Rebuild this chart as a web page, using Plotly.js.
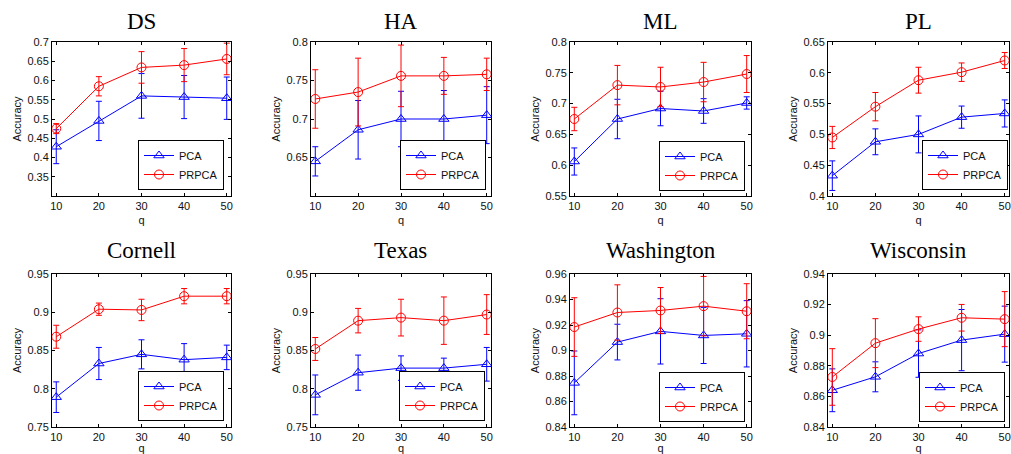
<!DOCTYPE html>
<html>
<head>
<meta charset="utf-8">
<script src="https://cdn.plot.ly/plotly-3.0.1.min.js"></script>
<style>
html,body{margin:0;padding:0;background:#fff;}
#chart{width:1011px;height:454px;}
</style>
</head>
<body>
<div id="chart"></div>
<script>
// ---------- data ----------
const q = [10, 20, 30, 40, 50];
const seriesNames = ['PCA', 'PRPCA'];
const panelTitles = ['DS', 'HA', 'ML', 'PL', 'Cornell', 'Texas', 'Washington', 'Wisconsin'];

const pcaDS = [0.428, 0.495, 0.560, 0.557, 0.554];
const pcaDSErr = [0.044, 0.051, 0.058, 0.056, 0.055];
const prpcaDS = [0.475, 0.585, 0.634, 0.640, 0.656];
const prpcaDSErr = [0.013, 0.025, 0.041, 0.043, 0.041];

const pcaHA = [0.645, 0.686, 0.700, 0.700, 0.705];
const pcaHAErr = [0.019, 0.038, 0.036, 0.037, 0.037];
const prpcaHA = [0.726, 0.735, 0.756, 0.756, 0.758];
const prpcaHAErr = [0.038, 0.044, 0.040, 0.024, 0.021];

const pcaML = [0.606, 0.675, 0.692, 0.688, 0.701];
const pcaMLErr = [0.022, 0.032, 0.028, 0.020, 0.010];
const prpcaML = [0.675, 0.730, 0.727, 0.735, 0.748];
const prpcaMLErr = [0.019, 0.032, 0.032, 0.032, 0.030];

const pcaPL = [0.433, 0.488, 0.500, 0.528, 0.534];
const pcaPLErr = [0.024, 0.021, 0.030, 0.018, 0.022];
const prpcaPL = [0.495, 0.545, 0.588, 0.601, 0.620];
const prpcaPLErr = [0.018, 0.023, 0.021, 0.015, 0.013];

const pcaCornell = [0.789, 0.833, 0.845, 0.838, 0.841];
const pcaCornellErr = [0.020, 0.021, 0.019, 0.021, 0.016];
const prpcaCornell = [0.868, 0.904, 0.903, 0.921, 0.921];
const prpcaCornellErr = [0.015, 0.008, 0.014, 0.010, 0.010];

const pcaTexas = [0.792, 0.821, 0.827, 0.827, 0.832];
const pcaTexasErr = [0.026, 0.023, 0.016, 0.013, 0.022];
const prpcaTexas = [0.852, 0.889, 0.893, 0.889, 0.897];
const prpcaTexasErr = [0.015, 0.016, 0.024, 0.031, 0.026];

const pcaWashington = [0.8746, 0.9066, 0.9150, 0.9118, 0.9131];
const pcaWashingtonErr = [0.025, 0.014, 0.0256, 0.022, 0.026];
const prpcaWashington = [0.9184, 0.9298, 0.9314, 0.9348, 0.9308];
const prpcaWashingtonErr = [0.023, 0.0217, 0.018, 0.0233, 0.0216];

const pcaWisconsin = [0.8640, 0.8728, 0.8880, 0.8968, 0.9007];
const pcaWisconsinErr = [0.014, 0.0098, 0.0155, 0.020, 0.0183];
const prpcaWisconsin = [0.8727, 0.8948, 0.9040, 0.9114, 0.9105];
const prpcaWisconsinErr = [0.0185, 0.016, 0.008, 0.0087, 0.018];

// y-axis ranges and tick labels
const yRanges = [[0.3, 0.7], [0.6, 0.8], [0.55, 0.8], [0.4, 0.65], [0.75, 0.95], [0.75, 0.95], [0.84, 0.96], [0.84, 0.94]];
const yTicks = [
  [0.35, 0.4, 0.45, 0.5, 0.55, 0.6, 0.65, 0.7],
  [0.65, 0.7, 0.75, 0.8],
  [0.55, 0.6, 0.65, 0.7, 0.75, 0.8],
  [0.4, 0.45, 0.5, 0.55, 0.6, 0.65],
  [0.75, 0.8, 0.85, 0.9, 0.95],
  [0.75, 0.8, 0.85, 0.9, 0.95],
  [0.84, 0.86, 0.88, 0.9, 0.92, 0.94, 0.96],
  [0.84, 0.86, 0.88, 0.9, 0.92, 0.94]
];
const xTicks = [10, 20, 30, 40, 50];
const xTitle = 'q';
const yTitle = 'Accuracy';

const pcaData = [pcaDS, pcaHA, pcaML, pcaPL, pcaCornell, pcaTexas, pcaWashington, pcaWisconsin];
const pcaErr = [pcaDSErr, pcaHAErr, pcaMLErr, pcaPLErr, pcaCornellErr, pcaTexasErr, pcaWashingtonErr, pcaWisconsinErr];
const prpcaData = [prpcaDS, prpcaHA, prpcaML, prpcaPL, prpcaCornell, prpcaTexas, prpcaWashington, prpcaWisconsin];
const prpcaErr = [prpcaDSErr, prpcaHAErr, prpcaMLErr, prpcaPLErr, prpcaCornellErr, prpcaTexasErr, prpcaWashingtonErr, prpcaWisconsinErr];

// ---------- layout geometry (pixels) ----------
const W = 1011, H = 454;
const colPx = [[52, 231], [311, 491], [570, 751], [828, 1009]];
const rowPx = [[42, 196], [274, 427]];
const titleYPx = [21, 251];
const legInsetR = [7, 5, 6, 1, 7, 6, 6, 4];
const legInsetB = [6, 6, 5, 6, 6, 6, 5, 5];

const sans = 'Liberation Sans, Arial, sans-serif';
const serif = 'Liberation Serif, Times New Roman, serif';
const BLUE = '#0000ff', RED = '#ff0000';

const traces = [];
const layout = {
  width: W, height: H,
  margin: {l: 0, r: 0, t: 0, b: 0},
  paper_bgcolor: '#ffffff',
  plot_bgcolor: '#ffffff',
  font: {family: sans, size: 11, color: '#111'},
  showlegend: true,
  annotations: []
};

for (let i = 0; i < 8; i++) {
  const c = i % 4, r = Math.floor(i / 4);
  const xa = i === 0 ? 'xaxis' : 'xaxis' + (i + 1);
  const ya = i === 0 ? 'yaxis' : 'yaxis' + (i + 1);
  const xr = i === 0 ? 'x' : 'x' + (i + 1);
  const yr = i === 0 ? 'y' : 'y' + (i + 1);
  const lg = i === 0 ? 'legend' : 'legend' + (i + 1);

  const xd = [colPx[c][0] / W, colPx[c][1] / W];
  const yd = [(H - rowPx[r][1]) / H, (H - rowPx[r][0]) / H];

  const axCommon = {
    showline: true, linecolor: '#000', linewidth: 1, mirror: 'ticks',
    ticks: 'inside', ticklen: 3, tickcolor: '#000', tickwidth: 1,
    showgrid: false, zeroline: false, fixedrange: true,
    tickfont: {family: sans, size: 11, color: '#111'}
  };

  layout[xa] = Object.assign({}, axCommon, {
    domain: xd, anchor: yr, range: [9, 51],
    tickmode: 'array', tickvals: xTicks, ticktext: xTicks.map(String),
    title: {text: xTitle, font: {family: sans, size: 11, color: '#111'}, standoff: 5}
  });
  layout[ya] = Object.assign({}, axCommon, {
    domain: yd, anchor: xr, range: yRanges[i],
    tickmode: 'array', tickvals: yTicks[i], ticktext: yTicks[i].map(String),
    title: {text: yTitle, font: {family: sans, size: 11, color: '#111'}, standoff: 3}
  });

  layout[lg] = {
    x: (colPx[c][1] - legInsetR[i]) / W, xanchor: 'right',
    y: (H - (rowPx[r][1] - legInsetB[i])) / H, yanchor: 'bottom',
    bgcolor: '#ffffff', bordercolor: '#000', borderwidth: 1,
    font: {family: sans, size: 11, color: '#111'},
    itemwidth: 30, tracegroupgap: 0
  };

  traces.push({
    type: 'scatter', mode: 'lines+markers', name: seriesNames[0],
    x: q, y: pcaData[i], xaxis: xr, yaxis: yr, legend: lg,
    line: {color: BLUE, width: 1},
    marker: {symbol: 'triangle-up-open', size: 9, color: BLUE, line: {width: 1, color: BLUE}},
    error_y: {type: 'data', array: pcaErr[i], visible: true, color: BLUE, thickness: 1, width: 3}
  });
  traces.push({
    type: 'scatter', mode: 'lines+markers', name: seriesNames[1],
    x: q, y: prpcaData[i], xaxis: xr, yaxis: yr, legend: lg,
    line: {color: RED, width: 1},
    marker: {symbol: 'circle-open', size: 9, color: RED, line: {width: 1, color: RED}},
    error_y: {type: 'data', array: prpcaErr[i], visible: true, color: RED, thickness: 1, width: 3}
  });

  layout.annotations.push({
    text: panelTitles[i], showarrow: false,
    xref: 'paper', yref: 'paper',
    x: (xd[0] + xd[1]) / 2, xanchor: 'center',
    y: (H - titleYPx[r]) / H, yanchor: 'middle',
    font: {family: serif, size: 23, color: '#000'}
  });
}

Plotly.newPlot('chart', traces, layout, {displayModeBar: false, staticPlot: true});
</script>
</body>
</html>
